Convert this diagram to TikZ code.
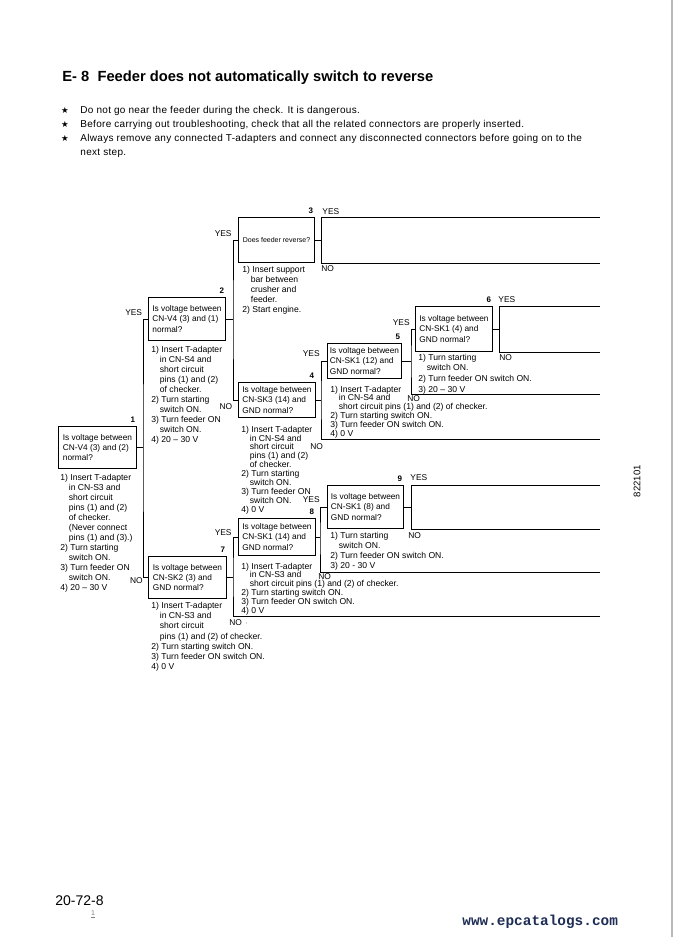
\documentclass[tikz,border=0pt]{standalone}
\usepackage{fontspec}
\setmainfont{Liberation Sans}
\newfontfamily\symf{DejaVu Sans}
\newfontfamily\monof{Liberation Mono}
\definecolor{urlc}{RGB}{30,45,85}
\newcommand{\stpind}{\hspace*{8.5pt}}
\begin{document}
\begin{tikzpicture}[x=1pt,y=-1pt, line width=0.8pt,
  qbox/.style={draw, line width=1pt, align=left, inner xsep=0pt, inner ysep=0pt, anchor=north west, font=\fontsize{8.3}{10.2}\selectfont},
  stepsty/.style={align=left, inner sep=0pt, anchor=north west, font=\fontsize{8.6}{#1}\selectfont},
  stepsty/.default=10,
  numl/.style={font=\bfseries\fontsize{8}{9}\selectfont, inner sep=0pt, anchor=base east},
  yn/.style={font=\fontsize{8.4}{9}\selectfont, inner sep=0pt},
  bul/.style={font=\fontsize{10}{12}\selectfont\addfontfeature{LetterSpace=3}, inner sep=0pt, anchor=base west},
  star/.style={font=\symf\fontsize{8.5}{9}\selectfont, inner sep=0pt, anchor=base},
]
\fill[white] (0,0) rectangle (673,937);
\useasboundingbox (0,0) rectangle (673,937);
\draw[gray!55, line width=1.5pt] (672,0) -- (672,937);

% title and notes
\node[font=\bfseries\fontsize{14.7}{17}\selectfont, inner sep=0pt, anchor=base west] (title) at (62,81.5) {E- 8\ \ Feeder does not automatically switch to reverse};
\node[star] (st1) at (65,113) {★};
\node[star] (st2) at (65,127) {★};
\node[star] (st3) at (65,141) {★};
\node[bul] (n1) at (80,113) {Do not go near the feeder during the check. It is dangerous.};
\node[bul] (n2) at (80,127) {Before carrying out troubleshooting, check that all the related connectors are properly inserted.};
\node[bul] (n3) at (80,141) {Always remove any connected T-adapters and connect any disconnected connectors before going on to the};
\node[bul] (n3b) at (80,155) {next step.};

% boxes
\node[qbox, minimum width=78pt, minimum height=42pt] (b1) at (58,426) {Is voltage between\\CN-V4 (3) and (2)\\normal?};
\node[qbox, minimum width=77pt, minimum height=43pt] (b2) at (148,297) {Is voltage between\\CN-V4 (3) and (1)\\normal?};
\node[qbox, minimum width=76pt, minimum height=45pt, align=center, font=\fontsize{7}{8}\selectfont] (b3) at (238,217) {Does feeder reverse?};
\node[qbox, minimum width=77pt, minimum height=35pt] (b4) at (238,382) {Is voltage between\\CN-SK3 (14) and\\GND normal?};
\node[qbox, minimum width=74pt, minimum height=35pt] (b5) at (327,343) {Is voltage between\\CN-SK1 (12) and\\GND normal?};
\node[qbox, minimum width=77pt, minimum height=45pt] (b6) at (415,306) {Is voltage between\\CN-SK1 (4) and\\GND normal?};
\node[qbox, minimum width=78pt, minimum height=42pt] (b7) at (148,556) {Is voltage between\\CN-SK2 (3) and\\GND normal?};
\node[qbox, minimum width=77pt, minimum height=37pt] (b8) at (238,518) {Is voltage between\\CN-SK1 (14) and\\GND normal?};
\node[qbox, minimum width=76pt, minimum height=43pt] (b9) at (327,485) {Is voltage between\\CN-SK1 (8) and\\GND normal?};

% numbers
\foreach \b/\n in {b1/1,b2/2,b3/3,b4/4,b5/5,b6/6,b7/7,b8/8,b9/9}
  \node[numl] (num\n) at ([xshift=-1.5pt,yshift=3.5pt]\b.north east) {\n};

% right end
\coordinate (rend) at (600,0);
\coordinate (e4) at (600,439);
\coordinate (e5) at (600,394);
\coordinate (e7) at (600,616);
\coordinate (e8) at (600,572);

% connectors
\draw (b1.east) -- ++(6,0) coordinate (j1);
\draw (b2.west) -| (j1) |- (b7.west);
\draw (b2.east) -- ++(7,0) coordinate (j2);
\draw (b3.west) -| (j2) |- (b4.west);
\draw (b3.east) -- ++(6,0) coordinate (j3);
\draw (b3.north -| rend) -- (b3.north -| j3) -- (b3.south -| j3) -- (b3.south -| rend);
\draw (b4.east) -- ++(5,0) coordinate (j4);
\draw (b5.west) -| (j4) |- (e4);
\draw (b5.east) -- ++(9,0) coordinate (j5);
\draw (b6.west) -| (j5) |- (e5);
\draw (b6.east) -- ++(6,0) coordinate (j6);
\draw (b6.north -| rend) -- (b6.north -| j6) -- (b6.south -| j6) -- (b6.south -| rend);
\draw (b7.east) -- ++(6,0) coordinate (j7);
\draw (b8.west) -| (j7) |- (e7);
\draw (b8.east) -- ++(4,0) coordinate (j8);
\draw (b9.west) -| (j8) |- (e8);
\draw (b9.east) -- ++(7,0) coordinate (j9);
\draw (b9.north -| rend) -- (b9.north -| j9) -- (b9.south -| j9) -- (b9.south -| rend);

% YES / NO labels
\node[yn, anchor=base east] (y2) at (142.5,315) {YES};
\node[yn, anchor=base east] (n7) at (143,583) {NO};
\node[yn, anchor=base east] (y3) at (232,236) {YES};
\node[yn, anchor=base east] (n4) at (232.5,409) {NO};
\node[yn, anchor=base east] (y5) at (320,356) {YES};
\node[yn, anchor=base west] (n4e) at (310,449) {NO};
\node[yn, anchor=base east] (y6) at (410,325) {YES};
\node[yn, anchor=base west] (n5e) at (407,401) {NO};
\node[yn, anchor=base west] (y3b) at (322,214) {YES};
\node[yn, anchor=base west] (n3b) at (321,271) {NO};
\node[yn, anchor=base west] (y6b) at (498,302) {YES};
\node[yn, anchor=base west] (n6b) at (499,360) {NO};
\node[yn, anchor=base east] (y8) at (232,535) {YES};
\node[yn, anchor=base east] (y9) at (320,502) {YES};
\node[yn, anchor=base west] (y9b) at (410,480) {YES};
\node[yn, anchor=base west] (n9b) at (408,538) {NO};
\node[yn, anchor=base west] (n8e) at (318,579.5) {NO};
\node[yn, anchor=base west] (n7e) at (229,625) {NO \,$\cdot$};

% step texts
\node[stepsty] (s3) at (242,265.5) {1) Insert support\\\stpind bar between\\\stpind crusher and\\\stpind feeder.\\2) Start engine.};
\node[stepsty] (s2) at (151,345.5) {1) Insert T-adapter\\\stpind in CN-S4 and\\\stpind short circuit\\\stpind pins (1) and (2)\\\stpind of checker.\\2) Turn starting\\\stpind switch ON.\\3) Turn feeder ON\\\stpind switch ON.\\4) 20 -- 30 V};
\node[stepsty] (s1) at (60,473.5) {1) Insert T-adapter\\\stpind in CN-S3 and\\\stpind short circuit\\\stpind pins (1) and (2)\\\stpind of checker.\\\stpind (Never connect\\\stpind pins (1) and (3).)\\2) Turn starting\\\stpind switch ON.\\3) Turn feeder ON\\\stpind switch ON.\\4) 20 -- 30 V};
\node[stepsty=8.9] (s4) at (241,425.5) {1) Insert T-adapter\\\stpind in CN-S4 and\\\stpind short circuit\\\stpind pins (1) and (2)\\\stpind of checker.\\2) Turn starting\\\stpind switch ON.\\3) Turn feeder ON\\\stpind switch ON.\\4) 0 V};
\node[stepsty=8.8] (s5) at (330,385.5) {1) Insert T-adapter\\\stpind in CN-S4 and\\\stpind short circuit pins (1) and (2) of checker.\\2) Turn starting switch ON.\\3) Turn feeder ON switch ON.\\4) 0 V};
\node[stepsty=10.7] (s6) at (418,353.5) {1) Turn starting\\\stpind switch ON.\\2) Turn feeder ON switch ON.\\3) 20 -- 30 V};
\node[stepsty=10.3] (s7) at (151,601.5) {1) Insert T-adapter\\\stpind in CN-S3 and\\\stpind short circuit\\\stpind pins (1) and (2) of checker.\\2) Turn starting switch ON.\\3) Turn feeder ON switch ON.\\4) 0 V};
\node[stepsty=8.8] (s8) at (241,562.5) {1) Insert T-adapter\\\stpind in CN-S3 and\\\stpind short circuit pins (1) and (2) of checker.\\2) Turn starting switch ON.\\3) Turn feeder ON switch ON.\\4) 0 V};
\node[stepsty] (s9) at (330,531.5) {1) Turn starting\\\stpind switch ON.\\2) Turn feeder ON switch ON.\\3) 20 - 30 V};

% footer
\node[font=\fontsize{14}{16}\selectfont, inner sep=0pt, anchor=base west] (pg) at (55,905) {20-72-8};
\node[font=\fontsize{7}{8}\selectfont, text=gray, inner sep=0pt] (pgm) at (93,914) {\underline{1}};
\node[font=\monof\bfseries\fontsize{14.4}{16}\selectfont, text=urlc, inner sep=0pt, anchor=base west] (url) at (462,925) {www.epcatalogs.com};
\node[font=\fontsize{9.6}{11}\selectfont, inner sep=0pt, rotate=90] (code) at (637,481) {822101};
\end{tikzpicture}
\end{document}
